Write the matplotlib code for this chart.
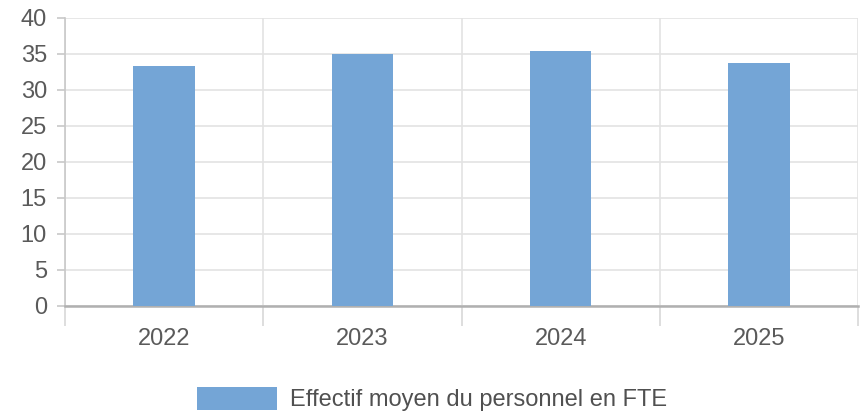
import matplotlib.pyplot as plt
import numpy as np

plt.rcParams['font.family'] = ['Liberation Sans', 'DejaVu Sans']

# données
annees = ['2022', '2023', '2024', '2025']
effectif = [33.3, 35.0, 35.3, 33.65]
serie = 'Effectif moyen du personnel en FTE'

fig = plt.figure(figsize=(8.64, 4.18), dpi=100)
ax = fig.add_axes([0.0752, 0.268, 0.918, 0.690])

x = np.arange(len(annees))
ax.bar(x, effectif, width=0.31, color='#74a5d6', zorder=3, label=serie)

ax.set_xlim(-0.5, len(annees) - 0.5)
ax.set_ylim(0, 40)
ax.set_yticks(np.arange(0, 41, 5))

# grille
ax.set_xticks(x)
ax.set_xticklabels(annees)
ax.set_xticks(np.arange(-0.5, len(annees), 1), minor=True)
ax.grid(axis='y', color='#e3e3e3', linewidth=1.2, zorder=0)
ax.grid(axis='x', which='minor', color='#e3e3e3', linewidth=1.2, zorder=0)

for s in ['top', 'right']:
    ax.spines[s].set_visible(False)
ax.spines['left'].set_color('#c8c8c8')
ax.spines['left'].set_linewidth(1.2)
ax.spines['bottom'].set_color('#b0b0b0')
ax.spines['bottom'].set_linewidth(1.8)

ax.tick_params(axis='x', which='major', length=0, pad=16, labelsize=17, labelcolor='#5a5a5a')
ax.tick_params(axis='x', which='minor', length=14.5, width=1.2, color='#d8d8d8')
ax.tick_params(axis='y', length=6, width=1.2, color='#c8c8c8', pad=7, labelsize=17, labelcolor='#5a5a5a')

fig.legend(loc='center', bbox_to_anchor=(0.5, 0.045), frameon=False,
           fontsize=17, handlelength=3.4, handleheight=1.1, handletextpad=0.55,
           labelcolor='#505050')

fig.savefig('out.png', dpi=100)
